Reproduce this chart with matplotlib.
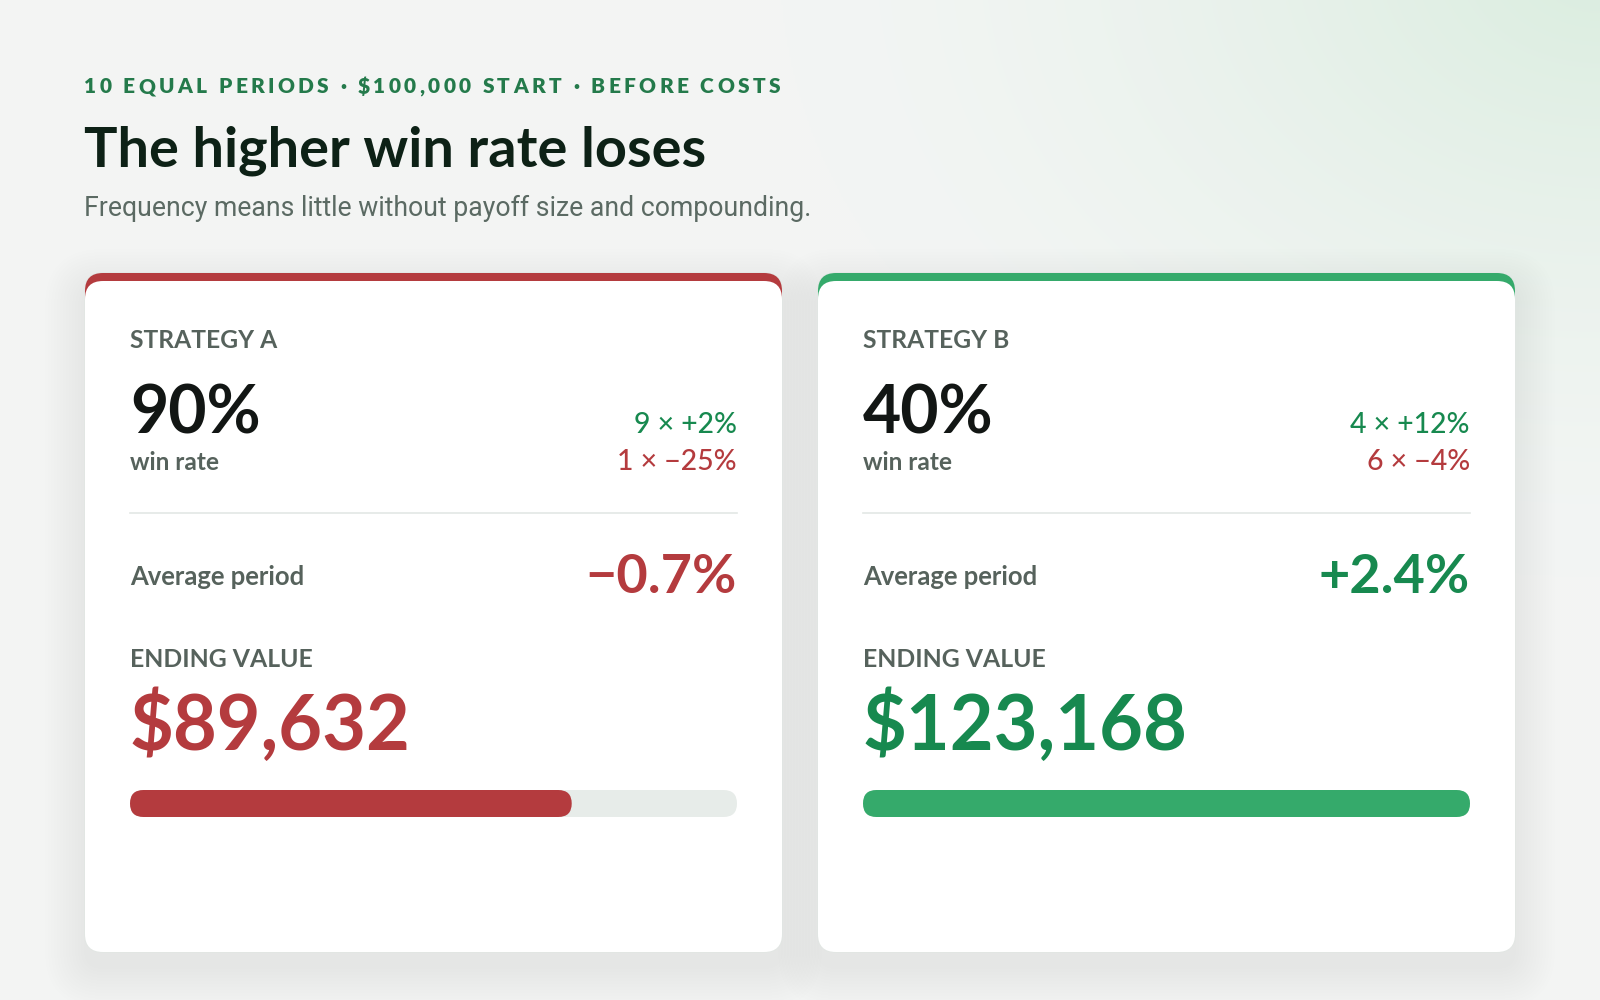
import numpy as np
import matplotlib
matplotlib.use("Agg")
import matplotlib.pyplot as plt
from matplotlib.patches import FancyBboxPatch
from matplotlib.font_manager import FontProperties

# values
names = ["STRATEGY A", "STRATEGY B"]
win_rates = [90, 40]
win_counts = [9, 4]
win_sizes = [2, 12]
loss_counts = [1, 6]
loss_sizes = [-25, -4]
avg_period = [-0.7, 2.4]
ending_values = [89632, 123168]

eyebrow = "10 EQUAL PERIODS \u00b7 $100,000 START \u00b7 BEFORE COSTS"
title = "The higher win rate loses"
subtitle = "Frequency means little without payoff size and compounding."

RED = "#b43b3e"
GREEN_TXT = "#17894f"
GREEN_BAR = "#35aa6b"
GRAY = "#56625c"
INK = "#121614"
HEAD = ["Lato", "DejaVu Sans"]
BODY = ["Roboto", "DejaVu Sans"]

W, H = 1600, 1000
fig = plt.figure(figsize=(16, 10), dpi=100)
ax = fig.add_axes([0, 0, 1, 1])
renderer = fig.canvas.get_renderer()

# background with a soft green glow in the top right corner
yy, xx = np.mgrid[0:H:2, 0:W:2]
d = np.hypot(xx - W, (yy + 40) / 0.75)
t = np.clip(1 - d / 820, 0, 1) ** 1.5
base = np.array([243, 245, 244]) / 255
glow = np.array([218, 237, 223]) / 255
ax.imshow(base + (glow - base) * t[..., None], extent=[0, W, H, 0],
          interpolation="bilinear", zorder=0)
ax.set_aspect("auto")
ax.set_xlim(0, W)
ax.set_ylim(H, 0)
ax.axis("off")


def width_of(s, size, family, weight):
    fp = FontProperties(family=family, weight=weight, size=size)
    return renderer.get_text_width_height_descent(s, fp, ismath=False)[0]


def fit(s, width, guess, family=HEAD, weight="bold"):
    size = guess * width / width_of(s, guess, family, weight)
    return float(np.clip(size, guess * 0.8, guess * 1.2))


def tracked(x, y, s, width, size, **kw):
    fam, wt = kw["family"], kw["fontweight"]
    hh = width_of("HH", size, fam, wt)
    adv = [width_of("H" + c + "H", size, fam, wt) - hh for c in s]
    track = (width - sum(adv)) / (len(s) - 1)
    for c, a in zip(s, adv):
        ax.text(x, y, c, fontsize=size, va="baseline", ha="left", **kw)
        x += a + track


def rbox(x, y, w, h, r, **kw):
    p = FancyBboxPatch((x, y), w, h, boxstyle=f"round,pad=0,rounding_size={r}", **kw)
    ax.add_patch(p)
    return p


# header
tracked(84, 93, eyebrow, 696, 15, family=HEAD, fontweight="heavy", color="#247a4b")
ax.text(84, 166, title, fontsize=fit(title, 622, 40), family=HEAD,
        fontweight="bold", color="#0d2116", va="baseline")
ax.text(84, 216, subtitle, fontsize=fit(subtitle, 725, 20, BODY, "normal"),
        family=BODY, color="#5b6a63", va="baseline")

# font sizes fitted on card A, shared by both cards
sz_name = fit(names[0], 147, 17)
sz_pct = fit("90%", 131, 46)
sz_win = fit("win rate", 89, 18.5)
sz_mix = fit("1 \u00d7 \u221225%", 119, 21, weight=500)
sz_avg = fit("Average period", 175, 17)
sz_avgv = fit("\u22120.7%", 151, 38)
sz_end = fit("ENDING VALUE", 182, 17)
sz_endv = fit("$89,632", 281, 54)

card_x = [85, 818]
card_w, top, bottom = 697, 273, 952
accents = [RED, GREEN_BAR]
value_cols = [RED, GREEN_TXT]
best = max(ending_values)


def signed(v, fmt):
    return ("+" if v > 0 else "\u2212") + format(abs(v), fmt)


for i, x0 in enumerate(card_x):
    ch = bottom - top
    # soft shadow
    for k in range(14):
        e = 1 + k * 3
        rbox(x0 - e, top - e + 16, card_w + 2 * e, ch + 2 * e, 18 + e,
             fc="#1c3326", ec="none", alpha=0.0045, zorder=1)
    rbox(x0, top, card_w, ch, 18, fc="white", ec="#e1e6e3", lw=1.0, zorder=2)
    rbox(x0, top, card_w, 70, 18, fc=accents[i], ec="none", zorder=3)
    rbox(x0, top + 8, card_w, ch - 8, 18, fc="white", ec="none", zorder=4)

    L, R = x0 + 45, x0 + 652
    z = 5
    ax.text(L, 348, names[i], fontsize=sz_name, family=HEAD, fontweight="bold",
            color=GRAY, va="baseline", zorder=z)
    ax.text(L, 433, f"{win_rates[i]}%", fontsize=sz_pct, family=HEAD,
            fontweight="bold", color=INK, va="baseline", zorder=z)
    ax.text(L, 470, "win rate", fontsize=sz_win, family=HEAD, fontweight="bold",
            color=GRAY, va="baseline", zorder=z)
    ax.text(R, 433, f"{win_counts[i]} \u00d7 {signed(win_sizes[i], 'd')}%",
            fontsize=sz_mix, family=HEAD, fontweight=500, color=GREEN_TXT,
            ha="right", va="baseline", zorder=z)
    ax.text(R, 470, f"{loss_counts[i]} \u00d7 {signed(loss_sizes[i], 'd')}%",
            fontsize=sz_mix, family=HEAD, fontweight=500, color=RED,
            ha="right", va="baseline", zorder=z)
    ax.plot([L, R], [513, 513], color="#e3e7e5", lw=1.2, zorder=z)

    ax.text(L, 585, "Average period", fontsize=sz_avg, family=HEAD,
            fontweight="bold", color=GRAY, va="baseline", zorder=z)
    ax.text(R, 593, signed(avg_period[i], ".1f") + "%", fontsize=sz_avgv,
            family=HEAD, fontweight="bold", color=value_cols[i], ha="right",
            va="baseline", zorder=z)

    ax.text(L, 667, "ENDING VALUE", fontsize=sz_end, family=HEAD,
            fontweight="bold", color=GRAY, va="baseline", zorder=z)
    ax.text(L, 750, f"${ending_values[i]:,}", fontsize=sz_endv, family=HEAD,
            fontweight="bold", color=value_cols[i], va="baseline", zorder=z)

    # bar scaled to the best ending value
    bw = R - L
    rbox(L, 790, bw, 27, 13.5, fc="#e7ece9", ec="none", zorder=z)
    rbox(L, 790, bw * ending_values[i] / best, 27, 13.5, fc=accents[i],
         ec="none", zorder=z + 1)

fig.savefig("out.png", dpi=100)
